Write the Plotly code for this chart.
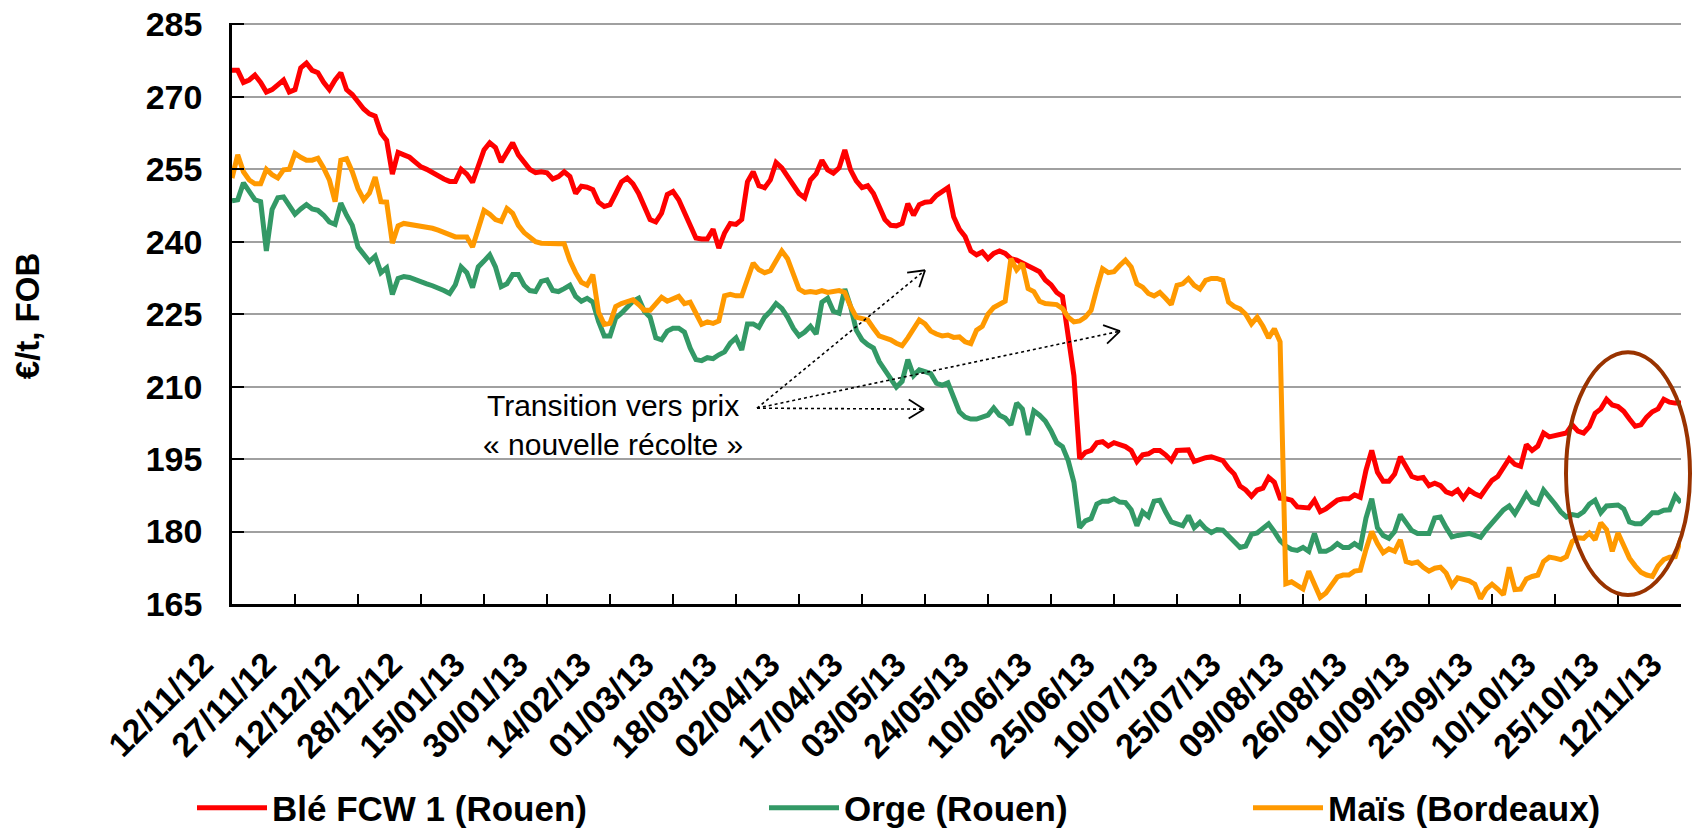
import math
import plotly.graph_objects as go

# x tick labels (one every 11 quotations)
tick_labels = [
    "12/11/12", "27/11/12", "12/12/12", "28/12/12", "15/01/13", "30/01/13",
    "14/02/13", "01/03/13", "18/03/13", "02/04/13", "17/04/13", "03/05/13",
    "24/05/13", "10/06/13", "25/06/13", "10/07/13", "25/07/13", "09/08/13",
    "26/08/13", "10/09/13", "25/09/13", "10/10/13", "25/10/13", "12/11/13",
]

# daily prices, EUR/t FOB
ble = [
    275.5, 275.5, 273, 273.5, 274.5, 273, 271, 271.5, 272.5, 273.5, 271, 271.5,
    276, 277, 275.5, 275, 273, 271.5, 273.5, 275, 271.5, 270.5, 269, 267.5,
    266.5, 266, 262.5, 261, 254, 258.5, 258, 257.5, 256.5, 255.5, 255, 254.3,
    253.6, 253, 252.5, 252.5, 255, 254, 252.3, 256, 259, 260.5, 259.5, 256.5,
    258.5, 260.5, 258, 256.5, 255, 254.3, 254.5, 254.3, 253, 253.5, 254.5, 253.5,
    250, 251.5, 251.3, 250.8, 248.2, 247.3, 247.7, 250, 252.4, 253.2, 252, 250,
    247.1, 244.6, 244.1, 245.9, 249.8, 250.4, 248.7, 245.9, 243, 240.8, 240.6, 240.6,
    242.6, 238.7, 241.8, 243.8, 243.6, 244.6, 252.4, 254.5, 251.6, 251.2, 252.8, 256.4,
    255.3, 253.4, 251.6, 250, 249.1, 252.8, 254.1, 256.9, 254.9, 254.2, 255.3, 259,
    254.9, 252.6, 251.2, 251.6, 250, 247.1, 244.6, 243.4, 243.3, 243.8, 247.9, 245.5,
    247.7, 248.2, 248.3, 249.6, 250.4, 251.2, 245.2, 242.6, 241.1, 238.1, 237.3, 237.9,
    236.5, 237.6, 238.1, 237.6, 236.5, 236.2, 235.6, 235.1, 234.4, 233.8, 232.1, 231.1,
    229.5, 228.7, 220.5, 212.3, 195.1, 196.4, 196.8, 198.4, 198.6, 197.7, 198.4, 198,
    197.6, 196.8, 194.5, 195.9, 196.1, 196.8, 196.8, 195.9, 194.7, 196.8, 196.9, 196.9,
    194.5, 195, 195.3, 195.5, 195, 194.7, 193.1, 191.9, 189.4, 188.6, 187.3, 188.6,
    189, 191.2, 190.2, 186.9, 186.8, 186.5, 185.1, 184.9, 184.9, 186.5, 184.1, 184.7,
    185.5, 186.5, 186.8, 186.8, 187.6, 187.1, 192.7, 196.8, 192.3, 190.4, 190.4, 191.9,
    195.5, 193.5, 191.4, 191, 191.2, 189.5, 190, 189.5, 188.2, 187.8, 188.6, 186.9,
    188.6, 187.8, 187.3, 189, 190.6, 191.4, 193.1, 195.1, 193.9, 193.5, 198, 196.8,
    197.7, 200.4, 199.6, 199.8, 200, 200.4, 202.1, 200.8, 200.4, 201.7, 204.5, 205.4,
    207.4, 206.2, 205.9, 204.9, 203.3, 201.8, 202.1, 203.7, 204.8, 205.4, 207.4, 206.8,
    206.6, 206.6,
]

orge = [
    248.5, 248.7, 252.2, 250.4, 248.7, 248.3, 238.1, 246.7, 249.1, 249.3, 247.7, 245.7,
    246.8, 247.7, 246.8, 246.5, 245.5, 244.1, 243.6, 248, 245.5, 243.4, 238.9, 237.5,
    235.9, 237, 233.6, 234.6, 229.1, 232.4, 232.8, 232.6, 232.1, 231.8, 231.3, 230.9,
    230.5, 229.9, 229.3, 231.1, 234.8, 233.6, 230.5, 234.8, 236, 237.3, 234.8, 230.7,
    231.3, 233.2, 233.2, 231, 229.9, 229.7, 231.8, 232.1, 229.9, 229.7, 230.3, 231,
    228.7, 227.7, 228.3, 227.5, 223.5, 220.5, 220.5, 224.2, 225.2, 226.4, 227.7, 228.3,
    225.6, 224.4, 220.1, 219.7, 221.5, 222.1, 222.1, 221.3, 218, 215.6, 215.4, 216,
    215.8, 216.6, 217.2, 219, 220.1, 217.6, 223, 223, 222.3, 224.4, 225.6, 227.2,
    226.2, 224.4, 222.1, 220.5, 221.3, 222.5, 220.9, 227.5, 228.3, 225.6, 225.2, 230.2,
    226.6, 221.7, 219.7, 218.7, 218, 215.2, 213.5, 211.9, 209.9, 211.1, 215.6, 212.3,
    213.5, 213.1, 212.7, 210.7, 210.3, 210.8, 207.6, 204.8, 203.7, 203.3, 203.3, 203.7,
    204.1, 205.6, 204.1, 203.5, 202.1, 206.6, 205.4, 200, 205, 204.1, 202.9, 200.9,
    198.4, 197.6, 194.7, 190.2, 180.8, 182.2, 182.7, 185.7, 186.3, 186.3, 186.8, 186.1,
    186, 184.5, 181.2, 184.1, 183.1, 186.3, 186.5, 184.1, 182, 181.6, 181.2, 183.3,
    180.8, 181.9, 180.6, 179.8, 180.4, 180.3, 179.2, 177.8, 176.7, 177, 179.4, 179.7,
    180.8, 181.6, 180, 178.1, 177, 176.3, 176.1, 176.7, 175.9, 179.6, 175.9, 175.9,
    176.5, 177.5, 176.7, 176.7, 177.5, 176.7, 182.8, 186.8, 180.8, 179.2, 178.6, 180,
    183.5, 182, 180.2, 179.6, 179.6, 179.6, 182.8, 183, 180.8, 178.9, 179.2, 179.4,
    179.6, 179.2, 178.8, 180.4, 181.9, 183.3, 184.5, 185.3, 183.7, 185.7, 187.8, 186.1,
    185.7, 188.6, 187.3, 185.7, 184.1, 183, 183.5, 183.3, 184.1, 185.7, 186.5, 183.9,
    185.3, 185.5, 185.5, 184.7, 182, 181.6, 181.6, 182.7, 183.9, 183.9, 184.4, 184.5,
    187.4, 186,
]

mais = [
    253.2, 258, 254.5, 252.8, 252, 252, 255, 253.9, 253.2, 254.9, 255, 258.3,
    257.5, 256.9, 256.9, 257.3, 255.3, 252.8, 248.3, 256.9, 257.2, 254.5, 251, 248.7,
    250.1, 253.4, 248.3, 248.2, 239.7, 243.3, 243.8, 243.6, 243.4, 243.3, 243, 242.8,
    242.4, 241.9, 241.4, 241, 241, 241, 238.9, 243, 246.5, 245.7, 244.6, 244.2,
    246.9, 245.9, 243.4, 241.9, 241.1, 240, 239.7, 239.6, 239.6, 239.6, 239.6, 236.1,
    233.6, 231.6, 231, 233.2, 225.4, 222.9, 223.1, 226.6, 227.2, 227.7, 228, 227,
    225.8, 225.8, 227.2, 228.5, 227.7, 228.3, 228.7, 227.2, 227.5, 225.2, 222.9, 223.4,
    223.1, 223.6, 228.8, 229.1, 228.8, 228.8, 232, 235.6, 234.2, 233.6, 234, 235.9,
    238.1, 236.5, 233.2, 230.2, 229.5, 229.7, 229.5, 229.9, 229.5, 229.7, 229.9, 229.5,
    226.6, 224.4, 224.2, 223.8, 222.1, 220.5, 220.1, 219.7, 219, 218.5, 220.1, 222.1,
    223.8, 223, 221.5, 220.9, 220.5, 220.7, 220.2, 220.3, 219.3, 218.9, 221.7, 222.5,
    225, 226.4, 227, 227.7, 236.5, 234.2, 235.5, 230.3, 229.7, 227.7, 227.2, 227,
    227, 226.2, 224.4, 223.4, 223.6, 224.4, 225.8, 230.3, 234.4, 233.6, 233.8, 235.1,
    236.2, 234.8, 231.3, 230.6, 229.3, 228.8, 229.5, 228.3, 227, 231, 231.3, 232.4,
    231, 230.2, 232, 232.4, 232.4, 232, 227.5, 226.6, 226.1, 225, 223, 224.4,
    222.5, 220.1, 222, 219.3, 169.2, 169.6, 168.8, 168.1, 171.8, 169.3, 166.4, 167.3,
    169.1, 170.6, 171, 171, 171.8, 172, 176.3, 180, 177.5, 175.6, 176.4, 175.9,
    178.3, 173.8, 173.4, 173.7, 172.6, 171.8, 172.4, 172.6, 171.4, 168.8, 170.4, 170,
    169.8, 169.1, 166.1, 168.1, 169.1, 168.1, 166.9, 172.6, 168, 168.1, 170.2, 170.7,
    171, 173.8, 174.7, 174.5, 174.2, 174.8, 177.9, 178.7, 178.6, 179.7, 178.3, 181.8,
    180.4, 175.9, 179.7, 177.1, 174.5, 172.9, 171.6, 171, 170.7, 172.9, 174.2, 174.7,
    174.8, 178.6,
]

series = [
    ("Blé FCW 1 (Rouen)", ble, "#FF0000", "legend"),
    ("Orge (Rouen)", orge, "#339966", "legend2"),
    ("Maïs (Bordeaux)", mais, "#FF9900", "legend3"),
]

FONT = "Arial, Liberation Sans, sans-serif"
OFF = 8  # default body margin of the html page
W, H = 1704 - 2 * OFF, 832 - OFF
Y0, Y1 = 165, 285.3  # a hair above 285 so the top gridline is kept
L, R, B = 232, 1681, 604  # plot area, page pixels
T = B - (Y1 - Y0) * (580 / 120)


def px(x):
    return (x - L) / (R - L)


def py(y):
    return (B - y) / (B - T)


fig = go.Figure()
for name, vals, color, leg in series:
    fig.add_trace(
        go.Scatter(
            x=list(range(len(vals))),
            y=vals,
            mode="lines",
            name=name,
            line=dict(color=color, width=5),
            legend=leg,
            showlegend=True,
        )
    )

# dotted arrows "Transition vers prix nouvelle récolte"
shapes = []
origin = (757, 408)
heads = [(925, 270), (1120, 331), (924, 409)]
for hx, hy in heads:
    shapes.append(dict(
        type="line", xref="paper", yref="paper",
        x0=px(origin[0]), y0=py(origin[1]), x1=px(hx), y1=py(hy),
        line=dict(color="black", width=1.6, dash="dot"),
    ))
    dx, dy = origin[0] - hx, origin[1] - hy
    n = math.hypot(dx, dy)
    dx, dy = dx / n, dy / n
    for a in (math.radians(32), math.radians(-32)):
        ex = hx + 18 * (dx * math.cos(a) - dy * math.sin(a))
        ey = hy + 18 * (dx * math.sin(a) + dy * math.cos(a))
        shapes.append(dict(
            type="line", xref="paper", yref="paper",
            x0=px(hx), y0=py(hy), x1=px(ex), y1=py(ey),
            line=dict(color="black", width=1.8),
        ))

# brown ellipse around the last weeks
shapes.append(dict(
    type="circle", xref="paper", yref="paper",
    x0=px(1566), x1=px(1690), y0=py(595), y1=py(352),
    line=dict(color="#993300", width=4),
))

annotations = [
    dict(
        x=px(613), y=py(425), xref="paper", yref="paper",
        xanchor="center", yanchor="middle",
        text="Transition vers prix<br>« nouvelle récolte »",
        showarrow=False, font=dict(family=FONT, size=30, color="black"),
        align="center",
    ),
    dict(
        x=px(27), y=py(316), xref="paper", yref="paper",
        xanchor="center", yanchor="middle",
        text="€/t, FOB", textangle=-90, showarrow=False,
        font=dict(family=FONT, size=33, color="black", weight="bold"),
    ),
]

leg_common = dict(
    orientation="h", yanchor="middle", xanchor="left",
    xref="container", yref="container", y=1 - (808 - OFF) / H,
    font=dict(family=FONT, size=35, color="black", weight="bold"),
    bgcolor="rgba(0,0,0,0)", itemwidth=70,
)

fig.update_layout(
    width=W, height=H,
    margin=dict(l=L - OFF, r=W - (R - OFF), t=T - OFF, b=H - (B - OFF),
                autoexpand=False),
    plot_bgcolor="white", paper_bgcolor="white",
    showlegend=True,
    shapes=shapes, annotations=annotations,
    legend=dict(x=(192 - OFF) / W, **leg_common),
    legend2=dict(x=(764 - OFF) / W, **leg_common),
    legend3=dict(x=(1248 - OFF) / W, **leg_common),
    xaxis=dict(
        range=[0, len(ble) - 1],
        tickmode="array",
        tickvals=list(range(0, len(ble), 11)),
        ticktext=tick_labels,
        tickangle=-45,
        ticks="inside", ticklen=10, tickwidth=2, tickcolor="black",
        showline=True, linecolor="black", linewidth=2.5,
        showgrid=False, zeroline=False, automargin=False,
        ticklabelstandoff=24, ticklabelshift=-29,
        ticklabeloverflow="allow",
        tickfont=dict(family=FONT, size=34, color="black", weight="bold"),
    ),
    yaxis=dict(
        range=[Y0, Y1], dtick=15, tick0=165,
        ticks="inside", ticklen=12, tickwidth=2, tickcolor="black",
        showline=True, linecolor="black", linewidth=2.5,
        showgrid=True, gridcolor="#A0A0A0", gridwidth=2,
        zeroline=False, automargin=False, ticklabelstandoff=20,
        ticklabeloverflow="allow",
        tickfont=dict(family=FONT, size=34, color="black", weight="bold"),
    ),
)

fig.write_html("out.html")
